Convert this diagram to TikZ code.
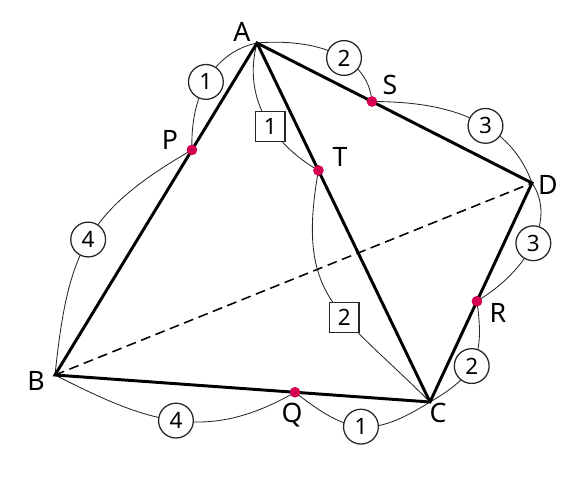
\documentclass[tikz,border=0pt]{standalone}
\usepackage{fontspec}
\setmainfont{Noto Sans}
\usetikzlibrary{calc}
\definecolor{dotred}{RGB}{214,0,82}
\begin{document}
\begin{tikzpicture}[x=0.025cm, y=0.025cm,
    edge/.style = {line width=2.1pt},
    arcline/.style = {line width=0.6pt, draw=black!85},
    dot/.style = {circle, fill=dotred, inner sep=0pt, minimum size=0.26cm},
    circ/.style = {circle, draw, fill=white, line width=0.9pt, inner sep=0pt, minimum size=0.87cm, font=\fontsize{16}{18}\selectfont},
    sq/.style = {rectangle, draw, fill=white, line width=0.9pt, inner sep=0pt, minimum size=0.74cm, font=\fontsize{16}{18}\selectfont},
    lbl/.style = {font=\fontsize{19}{22}\selectfont}
    ]
    \useasboundingbox (0,0) rectangle (588,480);

    \coordinate (A) at (257,437);
    \coordinate (B) at (55,105);
    \coordinate (C) at (430,78);
    \coordinate (D) at (532,297);

    \node[dot] (P) at ($(A)!0.322!(B)$) {};
    \node[dot] (S) at ($(A)!0.418!(D)$) {};
    \node[dot] (T) at ($(A)!0.355!(C)$) {};
    \node[dot] (R) at ($(D)!0.54!(C)$) {};
    \node[dot] (Q) at ($(B)!0.64!(C)$) {};

    % arcs with ratios
    \draw[arcline] (A) to[out=192, in=92] node[circ, pos=0.5] (c1) {1} (P.center);
    \draw[arcline] (P.center) to[out=210, in=84, looseness=1.2] node[circ, pos=0.5] (c4) {4} (B);
    \draw[arcline] (A) to[out=5, in=95] node[circ, pos=0.6] (c2) {2} (S.center);
    \draw[arcline] (S.center) to[out=0, in=110] node[circ, pos=0.6] (c3) {3} (D);
    \draw[arcline] (D) .. controls +(24,-35) and +(53,32) .. node[circ, pos=0.5] (c3b) {3} (R.center);
    \draw[arcline] (R.center) to[out=-82, in=30, looseness=1.25] node[circ, pos=0.55] (c2b) {2} (C);
    \draw[arcline] (C) to[out=212, in=-38, looseness=1.3] node[circ, pos=0.5] (c1b) {1} (Q.center);
    \draw[arcline] (Q.center) to[out=210, in=-27, looseness=1.1] node[circ, pos=0.5] (c4b) {4} (B);
    \draw[arcline] (A) to[out=-105, in=150] node[sq, pos=0.58] (s1) {1} (T.center);
    \draw[arcline] (T.center) to[out=-100, in=135, looseness=1.3] node[sq, pos=0.6] (s2) {2} (C);

    \draw[line width=1.1pt, dash pattern=on 7pt off 4pt] (B) -- (D);

    \draw[edge] (A) -- (B) -- (C) -- (D) -- cycle;
    \draw[edge] (A) -- (C);

    \foreach \p in {P,S,T,R,Q}
        \node[dot] at (\p) {};

    \node[lbl] (lA) at (242,448) {A};
    \node[lbl] (lB) at (36,99) {B};
    \node[lbl] (lC) at (438,67) {C};
    \node[lbl] (lD) at (548,295) {D};
    \node[lbl] (lP) at (170,340) {P};
    \node[lbl] (lQ) at (292,65) {Q};
    \node[lbl] (lR) at (498,167) {R};
    \node[lbl] (lS) at (390,395) {S};
    \node[lbl] (lT) at (340,323) {T};
\end{tikzpicture}
\end{document}
